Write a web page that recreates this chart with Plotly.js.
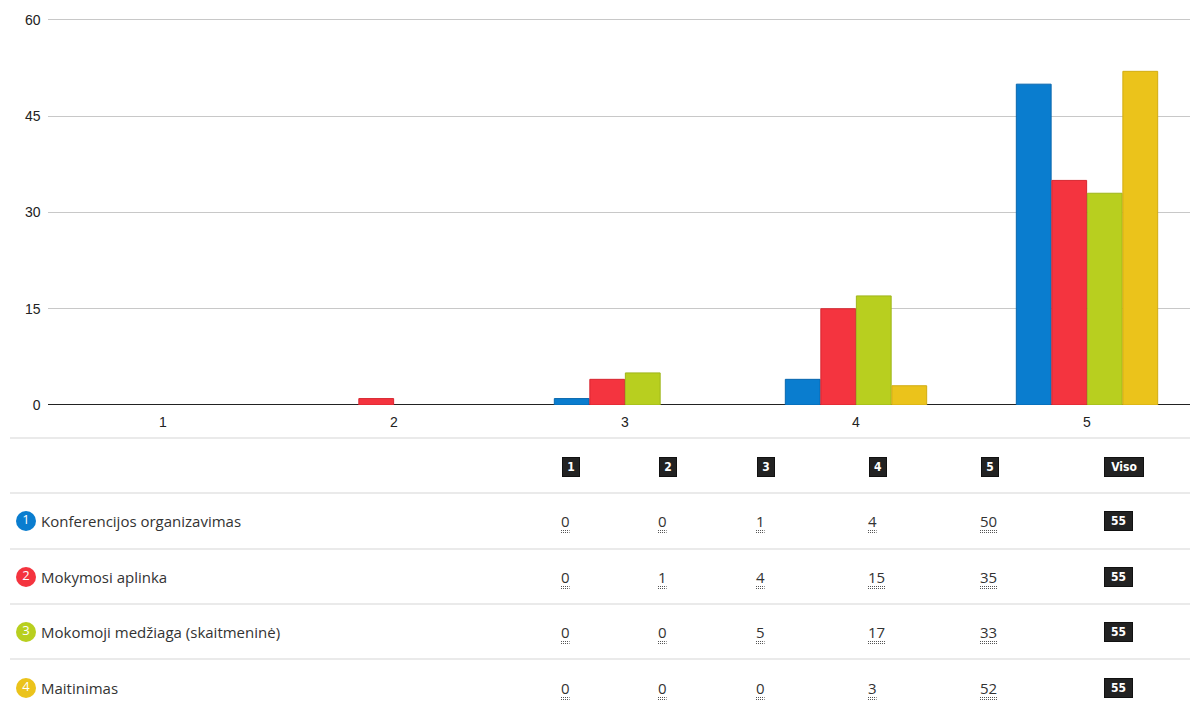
<!DOCTYPE html>
<html><head><meta charset="utf-8">
<script src="https://cdn.plot.ly/plotly-3.0.1.min.js"></script>
<style>html,body{margin:0;padding:0;background:#fff}</style>
</head><body><div id="chart" style="width:1190px;height:708px"></div>
<script>
// ---- data ----
const categories = ['1', '2', '3', '4', '5'];
const seriesNames = ['Konferencijos organizavimas', 'Mokymosi aplinka', 'Mokomoji medžiaga (skaitmeninė)', 'Maitinimas'];
const konferencijos = [0, 0, 1, 4, 50];
const aplinka = [0, 1, 4, 15, 35];
const medziaga = [0, 0, 5, 17, 33];
const maitinimas = [0, 0, 0, 3, 52];
const totalLabel = 'Viso';
const yTickValues = [0, 15, 30, 45, 60];

// ---- style ----
const seriesValues = [konferencijos, aplinka, medziaga, maitinimas];
const fillColors = ['#0a7dcf', '#f4343f', '#b8cf1f', '#ebc31b'];
const lineColors = ['#0866ad', '#d72630', '#9fb51a', '#d2ac12'];
const W = 1190, H = 708;
const yMax = 60.2;
const pxPerUnit = 385 / 60;
const plotLeft = 47.5, plotBottom = 405, plotTop = plotBottom - yMax * pxPerUnit, catWidth = 231;
const tableTop = 430;
const colLefts = [562, 659, 757, 869, 981, 1104];
const headerY = 467;
const rowYs = [521, 577, 632, 688];
const lineYs = [438, 493, 549, 604, 659];
const tableFont = 'Open Sans, sans-serif';
const digitWidth = 8.6;

const traces = seriesValues.map((vals, i) => ({
  type: 'bar', x: categories, y: vals, name: seriesNames[i],
  xaxis: 'x', yaxis: 'y',
  marker: { color: fillColors[i], line: { color: lineColors[i], width: vals.map(v => v > 0 ? 1 : 0) } },
  hoverinfo: 'x+y+name'
}));

// numbered circles in the table
traces.push({
  type: 'scatter', mode: 'markers+text', xaxis: 'x2', yaxis: 'y2',
  x: seriesNames.map(() => 26), y: rowYs,
  text: seriesNames.map((_, i) => String(i + 1)),
  textposition: 'middle center',
  textfont: { family: tableFont, size: 13, color: '#ffffff' },
  marker: { size: 20, color: fillColors, line: { width: 0 } },
  hoverinfo: 'skip', showlegend: false, cliponaxis: false
});

// dotted underlines under the table values
const ux = [], uy = [];
seriesValues.forEach((vals, i) => vals.forEach((v, j) => {
  const len = String(v).length * digitWidth;
  [9.5, 11.5].forEach(dy => {
    ux.push(colLefts[j] - 1, colLefts[j] - 1 + len, null);
    uy.push(rowYs[i] + dy, rowYs[i] + dy, null);
  });
}));
traces.push({
  type: 'scatter', mode: 'lines', xaxis: 'x2', yaxis: 'y2', x: ux, y: uy,
  line: { color: '#555555', width: 1, dash: '1px,1px' },
  hoverinfo: 'skip', showlegend: false, connectgaps: false
});

const annotations = [];
const badge = (x, y, txt, w) => ({
  xref: 'x2', yref: 'y2', x: x, y: y, xanchor: 'left', yanchor: 'middle',
  text: '<b>' + txt + '</b>', showarrow: false,
  font: { family: 'DejaVu Sans Condensed, sans-serif', size: 12, color: '#ffffff' },
  bgcolor: '#222222', bordercolor: '#111111', borderwidth: 1, borderpad: 0,
  width: w, height: 18, align: 'center', valign: 'middle'
});
categories.forEach((c, j) => annotations.push(badge(colLefts[j], headerY, c, 16)));
annotations.push(badge(colLefts[5], headerY, totalLabel, 38));

seriesNames.forEach((name, i) => {
  annotations.push({
    xref: 'x2', yref: 'y2', x: 39, y: rowYs[i], xanchor: 'left', yanchor: 'middle',
    text: name, showarrow: false,
    font: { family: tableFont, size: 15, color: '#333333' }
  });
  const vals = seriesValues[i];
  vals.forEach((v, j) => annotations.push({
    xref: 'x2', yref: 'y2', x: colLefts[j] - 3, y: rowYs[i], xanchor: 'left', yanchor: 'middle',
    text: String(v), showarrow: false,
    font: { family: tableFont, size: 15, color: '#333333' }
  }));
  const total = vals.reduce((a, b) => a + b, 0);
  annotations.push(badge(colLefts[5], rowYs[i], String(total), 27));
});

const shapes = lineYs.map(y => ({
  type: 'line', xref: 'x2', yref: 'y2', x0: 10, x1: W, y0: y, y1: y,
  line: { color: '#e3e3e3', width: 1.5 }, layer: 'below'
}));

const layout = {
  width: W, height: H,
  margin: { l: 0, r: 0, t: 0, b: 0 },
  paper_bgcolor: '#ffffff', plot_bgcolor: 'rgba(0,0,0,0)',
  showlegend: false,
  barmode: 'group', bargap: 0.385, bargroupgap: 0.02,
  font: { family: 'Liberation Sans, Arial, sans-serif', size: 14, color: '#333333' },
  xaxis: {
    domain: [plotLeft / W, 1],
    range: [-0.5, (W - plotLeft) / catWidth - 0.5],
    type: 'category', showgrid: false, zeroline: false, showline: false,
    ticks: '', ticklabelstandoff: 7, tickfont: { size: 14, color: '#222222' }, fixedrange: true, automargin: false
  },
  yaxis: {
    domain: [(H - plotBottom) / H, (H - plotTop) / H],
    range: [0, yMax], tickvals: yTickValues, ticktext: yTickValues.map(String),
    showgrid: true, gridcolor: '#c8c8c8', gridwidth: 1,
    zeroline: true, zerolinecolor: '#222222', zerolinewidth: 1,
    ticks: '', ticklabelstandoff: 6, tickfont: { size: 14, color: '#222222' },
    fixedrange: true, automargin: false
  },
  xaxis2: { domain: [0, 1], range: [0, W], visible: false, fixedrange: true },
  yaxis2: { domain: [0, (H - tableTop) / H], range: [H, tableTop], visible: false, fixedrange: true },
  annotations: annotations,
  shapes: shapes
};

Plotly.newPlot('chart', traces, layout, { displayModeBar: false, staticPlot: true });
</script>
</body></html>
